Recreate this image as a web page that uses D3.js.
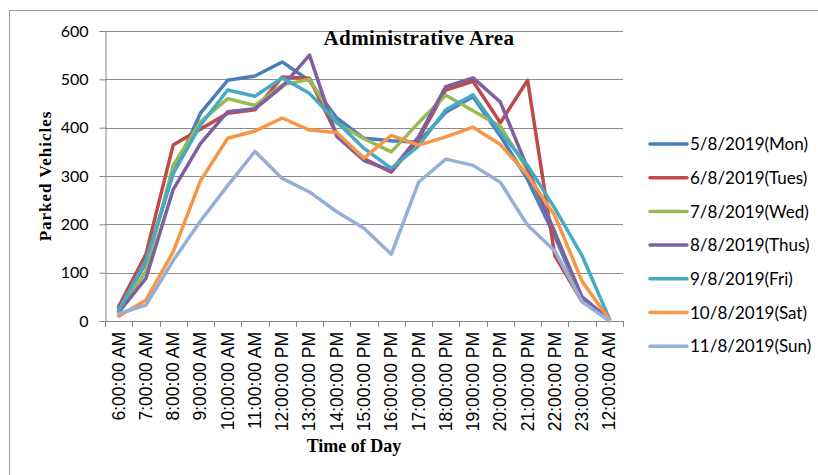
<!DOCTYPE html>
<html>
<head>
<meta charset="utf-8">
<script src="https://cdn.jsdelivr.net/npm/d3@7"></script>
<style>
  body { margin: 0; background: #fff; }
  svg { display: block; }
</style>
</head>
<body>
<svg id="chart" width="818" height="475"></svg>
<script>
// categories on the x axis
var times = ["6:00:00 AM", "7:00:00 AM", "8:00:00 AM", "9:00:00 AM", "10:00:00 AM",
  "11:00:00 AM", "12:00:00 PM", "13:00:00 PM", "14:00:00 PM", "15:00:00 PM",
  "16:00:00 PM", "17:00:00 PM", "18:00:00 PM", "19:00:00 PM", "20:00:00 PM",
  "21:00:00 PM", "22:00:00 PM", "23:00:00 PM", "12:00:00 AM"]

// series names
var days = ["5/8/2019(Mon)", "6/8/2019(Tues)", "7/8/2019(Wed)", "8/8/2019(Thus)",
  "9/8/2019(Fri)", "10/8/2019(Sat)", "11/8/2019(Sun)"]

// parked vehicles per day
var mon  = [25, 120, 305, 430, 498, 507, 536, 497, 420, 378, 373, 370, 432, 464, 383, 293, 175, 42, 3]
var tues = [30, 138, 364, 397, 430, 437, 505, 502, 386, 336, 308, 376, 478, 496, 410, 498, 135, 40, 2]
var wed  = [20, 103, 322, 412, 460, 446, 488, 500, 409, 377, 350, 410, 467, 435, 403, 312, 185, 42, 2]
var thus = [18, 88, 272, 367, 433, 439, 485, 550, 382, 332, 311, 381, 485, 503, 453, 316, 182, 50, 3]
var fri  = [22, 125, 305, 405, 478, 465, 503, 471, 412, 357, 316, 362, 437, 468, 390, 322, 233, 135, 5]
var sat  = [10, 43, 143, 290, 378, 393, 420, 395, 390, 337, 384, 364, 381, 401, 365, 302, 218, 82, 3]
var sun  = [15, 33, 125, 207, 280, 351, 295, 267, 226, 192, 138, 287, 335, 322, 287, 198, 145, 40, 0]

var yTicks = [0, 100, 200, 300, 400, 500, 600]

var allSeries = [mon, tues, wed, thus, fri, sat, sun]
var colors = ["#4A7EBB", "#BE4B48", "#98B954", "#7D60A0", "#46AAC5", "#F79646", "#95B0D8"]

var svg = d3.select("#chart")
var plotLeft = 105, plotRight = 623, plotTop = 31, plotBottom = 321

// outer frame (right and bottom edges run off the picture)
svg.append("rect")
  .attr("x", 9.5).attr("y", 10.5)
  .attr("width", 830).attr("height", 480)
  .attr("fill", "none").attr("stroke", "#9a9a9a")

var x = d3.scaleBand().domain(times).range([plotLeft, plotRight]).padding(0)
var y = d3.scaleLinear().domain([0, 600]).range([plotBottom, plotTop])

// gridlines
svg.append("g")
  .selectAll("line")
  .data(yTicks.slice(1))
  .enter().append("line")
  .attr("x1", plotLeft).attr("x2", plotRight)
  .attr("y1", function(d) { return Math.round(y(d)) + 0.5 })
  .attr("y2", function(d) { return Math.round(y(d)) + 0.5 })
  .attr("stroke", "#8c8c8c").attr("stroke-width", 1)

// y axis
var yAxis = svg.append("g")
  .attr("transform", "translate(" + (plotLeft + 0.5) + ",0)")
  .call(d3.axisLeft(y).tickValues(yTicks).tickSize(6).tickPadding(11))
yAxis.select(".domain").attr("stroke", "#868686")
yAxis.selectAll(".tick line").attr("stroke", "#868686")
yAxis.selectAll("text")
  .attr("font-family", "Lato, sans-serif")
  .attr("font-size", "16px")
  .attr("fill", "#000")

// x axis: ticks sit on category boundaries
var bounds = times.map(function(t) { return x(t) }).concat([plotRight])
var xAxis = svg.append("g")
xAxis.append("line")
  .attr("x1", plotLeft).attr("x2", plotRight)
  .attr("y1", plotBottom + 0.5).attr("y2", plotBottom + 0.5)
  .attr("stroke", "#868686")
xAxis.selectAll(".tk")
  .data(bounds)
  .enter().append("line")
  .attr("class", "tk")
  .attr("x1", function(d) { return Math.round(d) + 0.5 })
  .attr("x2", function(d) { return Math.round(d) + 0.5 })
  .attr("y1", plotBottom).attr("y2", plotBottom + 6)
  .attr("stroke", "#868686")
xAxis.selectAll("text")
  .data(times)
  .enter().append("text")
  .attr("transform", function(d) {
    return "translate(" + (x(d) + x.bandwidth() / 2 + 6) + "," + (plotBottom + 11) + ") rotate(-90)"
  })
  .attr("text-anchor", "end")
  .attr("font-family", "'Liberation Sans', Arial, sans-serif")
  .attr("font-size", "17.5px")
  .attr("fill", "#000")
  .text(function(d) { return d })

// series lines
var line = d3.line()
  .x(function(d, i) { return x(times[i]) + x.bandwidth() / 2 })
  .y(function(d) { return y(d) })

svg.append("g")
  .selectAll("path")
  .data(allSeries)
  .enter().append("path")
  .attr("d", line)
  .attr("fill", "none")
  .attr("stroke", function(d, i) { return colors[i] })
  .attr("stroke-width", 3.5)
  .attr("stroke-linejoin", "round")
  .attr("stroke-linecap", "round")

// titles
svg.append("text")
  .attr("x", 419).attr("y", 45)
  .attr("text-anchor", "middle")
  .attr("font-family", "'Liberation Serif', 'Times New Roman', serif")
  .attr("font-weight", "bold")
  .attr("font-size", "21px")
  .attr("letter-spacing", "0.4px")
  .text("Administrative Area")

svg.append("text")
  .attr("transform", "translate(51,176) rotate(-90)")
  .attr("text-anchor", "middle")
  .attr("font-family", "'Liberation Serif', 'Times New Roman', serif")
  .attr("font-weight", "bold")
  .attr("font-size", "17px")
  .attr("letter-spacing", "1px")
  .text("Parked  Vehicles")

svg.append("text")
  .attr("x", 354).attr("y", 452)
  .attr("text-anchor", "middle")
  .attr("font-family", "'Liberation Serif', 'Times New Roman', serif")
  .attr("font-weight", "bold")
  .attr("font-size", "18px")
  .text("Time of Day")

// legend
var legend = svg.append("g")
  .selectAll("g")
  .data(days)
  .enter().append("g")
  .attr("transform", function(d, i) { return "translate(650," + (144 + i * 33.7) + ")" })
legend.append("line")
  .attr("x1", 0).attr("x2", 37)
  .attr("stroke", function(d, i) { return colors[i] })
  .attr("stroke-width", 3.5)
  .attr("stroke-linecap", "round")
legend.append("text")
  .attr("x", 40).attr("dy", "0.36em")
  .attr("font-family", "Lato, sans-serif")
  .attr("font-size", "17px")
  .attr("fill", "#000")
  .text(function(d) { return d })
</script>
</body>
</html>
